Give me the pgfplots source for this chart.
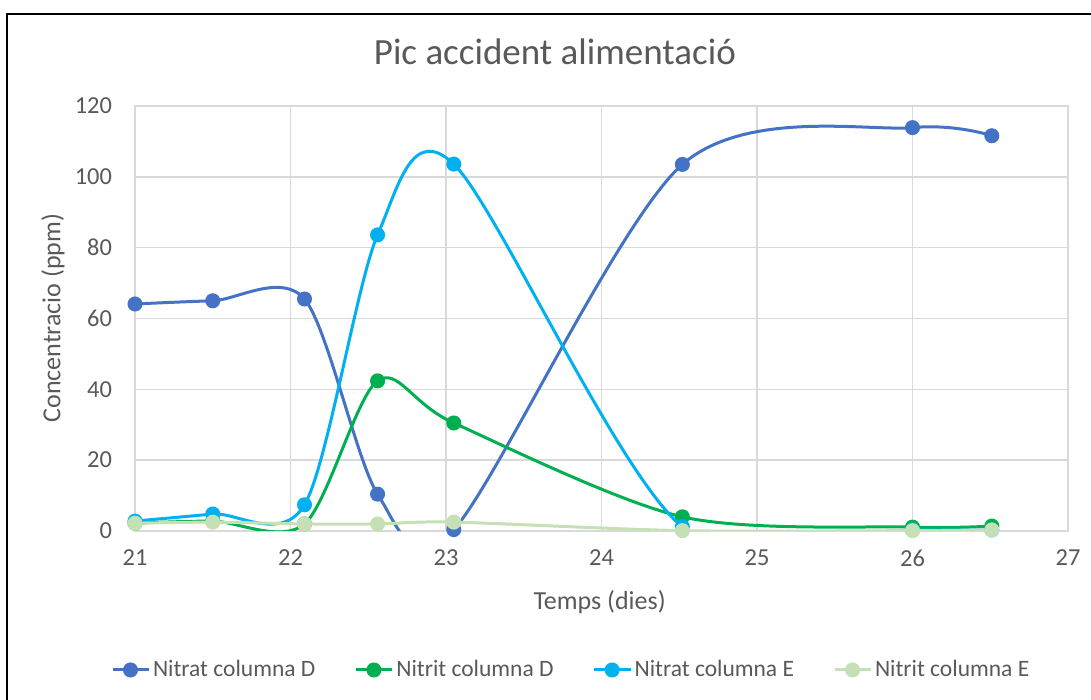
\documentclass[border=0pt]{standalone}
\usepackage{fontspec}
\setmainfont{Carlito}
\usepackage{pgfplots}
\pgfplotsset{compat=1.18}
\definecolor{nd}{HTML}{4472C4}
\definecolor{nid}{HTML}{00B050}
\definecolor{ne}{HTML}{00B0F0}
\definecolor{nie}{HTML}{C5E0B4}
\definecolor{txt}{HTML}{595959}
\definecolor{grd}{HTML}{D9D9D9}
\begin{document}
\begin{tikzpicture}
\useasboundingbox (0,0) rectangle (545.5pt,350pt);
\draw[line width=1pt] (3.5pt,0) -- (3.5pt,343pt) -- (545.5pt,343pt);
\begin{axis}[
  at={(67.5pt,84.5pt)}, anchor=south west,
  scale only axis, width=466.5pt, height=212.5pt,
  xmin=21, xmax=27, ymin=0, ymax=120,
  xtick={21,22,...,27}, ytick={0,20,...,120},
  grid=major, major grid style={grd, line width=0.7pt},
  axis line style={grd, line width=0.7pt},
  major tick length=0pt,
  tick label style={font=\fontsize{12.2}{14}\selectfont, text=txt},
  /pgf/number format/assume math mode=true,
  xticklabel style={yshift=-6pt},
  yticklabel style={xshift=-8pt},
  clip mode=individual,
  title={Pic accident alimentació},
  title style={at={(axis description cs:0.450,1.100)}, anchor=center, font=\fontsize{18.5}{22}\selectfont, text=txt},
  xlabel={Temps (dies)},
  xlabel style={at={(axis description cs:0.498,-0.167)}, anchor=center, font=\fontsize{13}{15}\selectfont, text=txt},
  ylabel={Concentracio (ppm)},
  ylabel style={at={(axis description cs:-0.0879,0.501)}, anchor=center, rotate=0, font=\fontsize{13}{15}\selectfont, text=txt},
  legend columns=4,
  legend style={at={(axis description cs:0.468,-0.327)}, anchor=center, draw=none, fill=none,
    font=\fontsize{11.75}{14}\selectfont, text=txt, nodes={inner xsep=1.5pt},
    /tikz/every even column/.append style={column sep=18pt}},
  legend image code/.code={\draw[mark repeat=2,mark phase=2,#1] plot coordinates {(0pt,0pt) (9pt,0pt) (18pt,0pt)};},
  every axis plot/.append style={line width=1.5pt, smooth, mark=*, mark size=3pt, mark options={solid}},
]
\addplot[nd] coordinates {(21,64.1) (21.5,65) (22.09,65.5) (22.56,10.4) (23.05,0.4) (24.52,103.5) (26,113.9) (26.51,111.6)};
\addlegendentry{Nitrat columna D}
\addplot[nid] coordinates {(21,2.2) (21.5,2.8) (22.09,2) (22.56,42.4) (23.05,30.5) (24.52,4) (26,1.1) (26.51,1.4)};
\addlegendentry{Nitrit columna D}
\addplot[ne] coordinates {(21,2.8) (21.5,4.8) (22.09,7.4) (22.56,83.6) (23.05,103.6) (24.52,1.2) (26,0.3) (26.51,0.3)};
\addlegendentry{Nitrat columna E}
\addplot[nie] coordinates {(21,2.2) (21.5,2.5) (22.09,2) (22.56,2) (23.05,2.5) (24.52,0.1) (26,0.1) (26.51,0.3)};
\addlegendentry{Nitrit columna E}
\end{axis}
\end{tikzpicture}
\end{document}
